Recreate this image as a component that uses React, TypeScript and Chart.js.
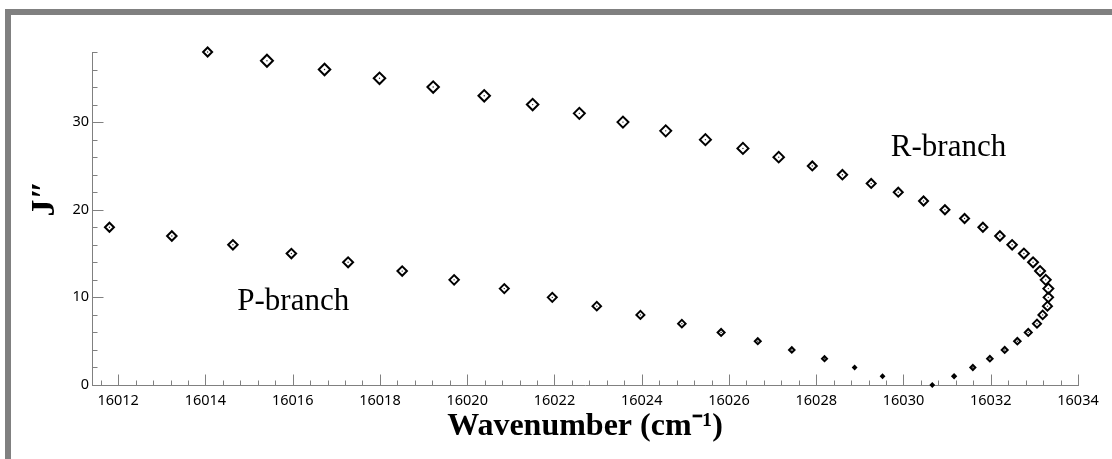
import React, { useEffect, useRef } from "react";
import { Chart, registerables } from "chart.js";

Chart.register(...registerables);

// ---------- data ----------
const pBranchJ = [1, 2, 3, 4, 5, 6, 7, 8, 9, 10, 11, 12, 13, 14, 15, 16, 17, 18];
const pBranchWavenumber = [
  16029.52, 16028.88, 16028.19, 16027.44, 16026.66, 16025.82, 16024.92, 16023.97, 16022.97,
  16021.95, 16020.85, 16019.7, 16018.51, 16017.27, 16015.97, 16014.63, 16013.23, 16011.8,
];
// marker widths (px) as they appear in the figure
const pMarkerSize = [4, 4, 6, 6.5, 7, 8, 8.5, 9, 9.5, 10, 10, 10.5, 10.5, 11, 10.5, 10.5, 10.5, 10];

const rBranchJ = [
  0, 1, 2, 3, 4, 5, 6, 7, 8, 9, 10, 11, 12, 13, 14, 15, 16, 17, 18, 19, 20, 21, 22, 23, 24, 25,
  26, 27, 28, 29, 30, 31, 32, 33, 34, 35, 36, 37, 38,
];
const rBranchWavenumber = [
  16030.66, 16031.16, 16031.59, 16031.98, 16032.32, 16032.61, 16032.86, 16033.06, 16033.19,
  16033.3, 16033.32, 16033.32, 16033.26, 16033.13, 16032.97, 16032.76, 16032.49, 16032.21,
  16031.82, 16031.4, 16030.95, 16030.46, 16029.88, 16029.26, 16028.6, 16027.91, 16027.14,
  16026.32, 16025.46, 16024.55, 16023.57, 16022.57, 16021.5, 16020.39, 16019.22, 16017.99,
  16016.73, 16015.41, 16014.05,
];
const rMarkerSize = [
  4, 4.5, 6, 6.5, 7, 7.5, 8, 9, 9.5, 10, 10.5, 11, 11, 11, 11, 11, 10.5, 10.5, 10, 10, 10, 10,
  10, 10, 10.5, 10, 11.5, 12, 12, 12, 12, 12, 12.5, 12.5, 12.5, 12.5, 12.5, 13, 10,
];

const xMin = 16011.4;
const xMax = 16034;
const xMajorStep = 2;
const xMinorStep = 0.4;
const yMin = 0;
const yMax = 38;
const yMajorStep = 10;
const yMinorStep = 2;

const xTitle = "Wavenumber (cm⁻¹)";
const yTitle = "J″";

const branchLabels = [
  { text: "R-branch", x: 16029.71, y: 26.1 },
  { text: "P-branch", x: 16014.73, y: 8.6 },
];

// ---------- helpers ----------
const toRadius = (w: number) => Math.max(w / 2 - 0.5, 1.3);

const inwardTicks = {
  id: "inwardTicks",
  afterDraw(chart: any) {
    const { ctx, scales } = chart;
    const x = scales.x;
    const y = scales.y;
    ctx.save();
    ctx.strokeStyle = "#808080";
    ctx.lineWidth = 1;
    const base = Math.round(y.getPixelForValue(yMin)) + 0.5;
    const left = Math.round(x.left) + 0.5;
    ctx.beginPath();
    for (let k = Math.ceil(xMin / xMinorStep - 1e-9); k * xMinorStep <= xMax + 1e-9; k++) {
      const v = k * xMinorStep;
      const major = Math.abs(v / xMajorStep - Math.round(v / xMajorStep)) < 1e-6;
      const px = Math.round(x.getPixelForValue(v)) + 0.5;
      ctx.moveTo(px, base);
      ctx.lineTo(px, base - (major ? 11 : 5));
    }
    for (let k = Math.ceil(yMin / yMinorStep); k * yMinorStep <= yMax + 1e-9; k++) {
      const v = k * yMinorStep;
      const major = Math.abs(v / yMajorStep - Math.round(v / yMajorStep)) < 1e-6;
      const py = Math.round(y.getPixelForValue(v)) + 0.5;
      ctx.moveTo(left, py);
      ctx.lineTo(left + (major ? 11 : 5), py);
    }
    ctx.stroke();
    ctx.restore();
  },
};

const textPlugin = {
  id: "textPlugin",
  afterDraw(chart: any) {
    const { ctx, scales, chartArea } = chart;
    ctx.save();
    ctx.fillStyle = "#000";
    ctx.font = '31px "Liberation Serif", "Times New Roman", serif';
    ctx.textAlign = "left";
    ctx.textBaseline = "alphabetic";
    for (const l of branchLabels) {
      ctx.fillText(l.text, scales.x.getPixelForValue(l.x), scales.y.getPixelForValue(l.y));
    }
    // y-axis title
    ctx.font = 'bold 34px "Liberation Serif", "Times New Roman", serif';
    ctx.textAlign = "center";
    ctx.textBaseline = "middle";
    ctx.translate(chartArea.left - 47, (chartArea.top + chartArea.bottom) / 2 - 20);
    ctx.rotate(-Math.PI / 2);
    ctx.fillText(yTitle, 0, 0);
    ctx.restore();
  },
};

export default function App() {
  const ref = useRef<HTMLCanvasElement | null>(null);

  useEffect(() => {
    if (!ref.current) return;
    const markerStyle = {
      pointStyle: "rectRot" as const,
      pointBorderWidth: 2,
      pointBorderColor: "#000",
      pointBackgroundColor: "rgba(255,255,255,0)",
      pointHoverRadius: 0,
      showLine: false,
      clip: false,
    };
    const dotStyle = {
      pointStyle: "circle" as const,
      pointRadius: 0.7,
      pointBorderWidth: 0,
      pointBackgroundColor: "#222",
      showLine: false,
      clip: false,
    };
    const pData = pBranchJ.map((j, i) => ({ x: pBranchWavenumber[i], y: j }));
    const rData = rBranchJ.map((j, i) => ({ x: rBranchWavenumber[i], y: j }));
    const tickFont = { family: '"Noto Sans", "DejaVu Sans", sans-serif', size: 14.5 };

    const chart = new Chart(ref.current, {
      type: "scatter",
      data: {
        datasets: [
          { label: "P-branch", data: pData, pointRadius: pMarkerSize.map(toRadius), ...markerStyle },
          { label: "R-branch", data: rData, pointRadius: rMarkerSize.map(toRadius), ...markerStyle },
          { label: "P centre", data: pData, ...dotStyle },
          { label: "R centre", data: rData, ...dotStyle },
        ],
      },
      options: {
        responsive: false,
        animation: false,
        events: [],
        layout: { padding: { top: 52, right: 34, left: 0, bottom: 0 } },
        plugins: {
          legend: { display: false },
          tooltip: { enabled: false },
          title: { display: false },
        },
        scales: {
          x: {
            type: "linear",
            min: xMin,
            max: xMax,
            grid: { display: false, drawTicks: false },
            border: { display: true, color: "#808080", width: 1 },
            ticks: {
              stepSize: xMajorStep,
              includeBounds: false,
              autoSkip: false,
              maxRotation: 0,
              padding: 7,
              color: "#000",
              font: tickFont,
              callback: (v: any) => String(v),
            },
            title: {
              display: true,
              text: xTitle,
              color: "#000",
              font: { family: '"Liberation Serif", "Times New Roman", serif', size: 32, weight: "bold", lineHeight: 1.2 },
              padding: { top: 0, bottom: 13 },
            },
            afterFit: (s: any) => {
              s.height = 74;
            },
          },
          y: {
            type: "linear",
            min: yMin,
            max: yMax,
            grid: { display: false, drawTicks: false },
            border: { display: true, color: "#808080", width: 1 },
            ticks: {
              stepSize: yMajorStep,
              includeBounds: false,
              padding: 3,
              color: "#000",
              font: tickFont,
            },
            afterFit: (s: any) => {
              s.width = 92;
            },
          },
        },
      } as any,
      plugins: [inwardTicks, textPlugin],
    });
    return () => chart.destroy();
  }, []);

  return (
    <div
      style={{
        position: "fixed",
        left: 0,
        top: 0,
        width: 1112,
        height: 459,
        overflow: "hidden",
        background: "#fff",
      }}
    >
      <div
        style={{
          position: "absolute",
          left: 5,
          top: 9,
          width: 2000,
          height: 2000,
          borderTop: "6px solid #808080",
          borderLeft: "6px solid #808080",
        }}
      />
      <canvas
        ref={ref}
        width={1112}
        height={459}
        style={{ position: "absolute", left: 0, top: 0, width: 1112, height: 459 }}
      />
    </div>
  );
}
